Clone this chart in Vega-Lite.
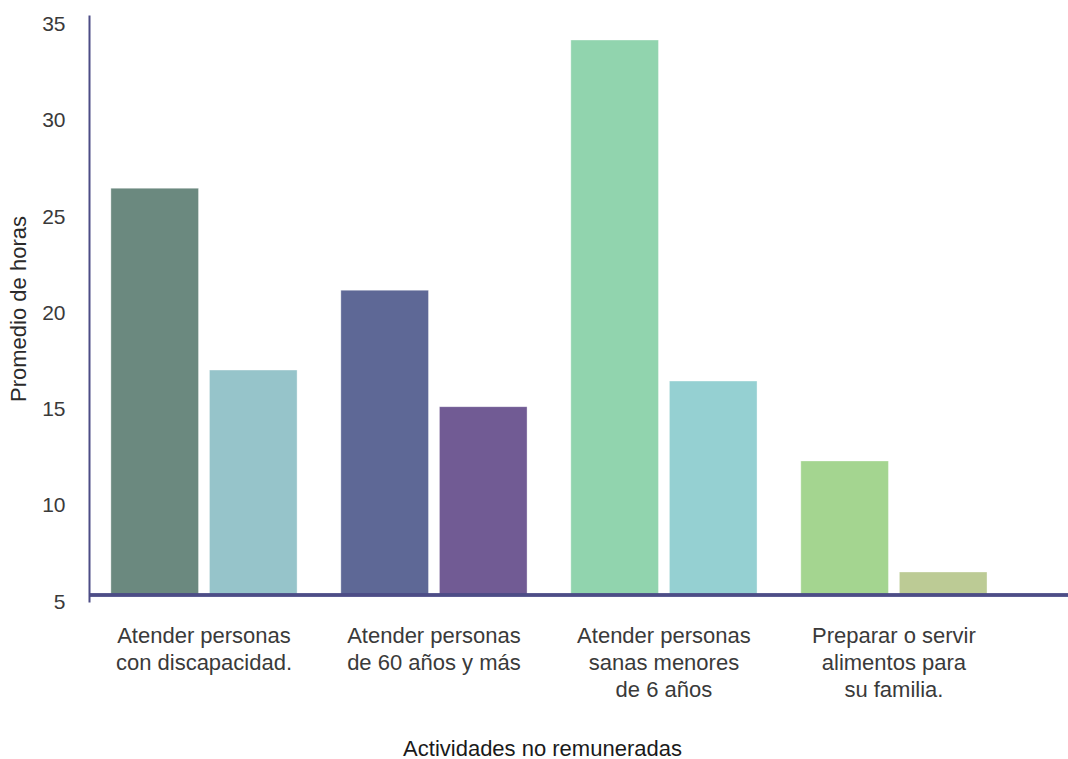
{
  "$schema": "https://vega.github.io/schema/vega-lite/v6.json",
  "autosize": "none",
  "width": 979,
  "height": 587,
  "padding": {"left": 89, "top": 15, "right": 0, "bottom": 157},
  "background": "white",
  "config": {
    "view": {"stroke": null},
    "font": "Liberation Sans"
  },
  "data": {
    "values": [
      {"actividad": "Atender personas|con discapacidad.", "serie": "A", "bar": "b1", "horas": 26.5},
      {"actividad": "Atender personas|con discapacidad.", "serie": "B", "bar": "b2", "horas": 17.05},
      {"actividad": "Atender personas|de 60 años y más", "serie": "A", "bar": "b3", "horas": 21.2},
      {"actividad": "Atender personas|de 60 años y más", "serie": "B", "bar": "b4", "horas": 15.15},
      {"actividad": "Atender personas|sanas menores|de 6 años", "serie": "A", "bar": "b5", "horas": 34.2},
      {"actividad": "Atender personas|sanas menores|de 6 años", "serie": "B", "bar": "b6", "horas": 16.48},
      {"actividad": "Preparar o servir|alimentos para|su familia.", "serie": "A", "bar": "b7", "horas": 12.33},
      {"actividad": "Preparar o servir|alimentos para|su familia.", "serie": "B", "bar": "b8", "horas": 6.56}
    ]
  },
  "layer": [
    {
      "mark": {"type": "bar", "stroke": "white", "strokeOpacity": 0.35, "strokeWidth": 1},
      "encoding": {
        "x": {
          "field": "actividad",
          "type": "nominal",
          "sort": null,
          "scale": {"paddingInner": 0, "paddingOuter": 0.1285, "align": 0},
          "axis": {
            "title": "Actividades no remuneradas",
            "labelExpr": "split(datum.label, '|')",
            "labelAngle": 0,
            "labelFont": "Liberation Sans",
            "labelFontSize": 22,
            "labelColor": "#3a3a3a",
            "labelLineHeight": 27,
            "labelBaseline": "top",
            "labelPadding": 23,
            "ticks": false,
            "domain": false,
            "titleFont": "Liberation Sans",
            "titleFontSize": 22,
            "titleFontWeight": "normal",
            "titleColor": "#1a1a1a",
            "titleAnchor": "start",
            "titleAlign": "center",
            "titleX": 453,
            "titlePadding": 38
          }
        },
        "xOffset": {
          "field": "serie",
          "type": "nominal",
          "scale": {"paddingInner": 0.111, "paddingOuter": 0.222}
        },
        "y": {
          "field": "horas",
          "type": "quantitative",
          "scale": {"domain": [5, 35.5], "nice": false, "zero": false},
          "axis": {
            "title": "Promedio de horas",
            "values": [5, 10, 15, 20, 25, 30, 35],
            "grid": false,
            "ticks": false,
            "labelFont": "Liberation Sans",
            "labelFontSize": 21,
            "labelColor": "#3a3a3a",
            "labelPadding": 24,
            "domain": true,
            "domainColor": "#4d4d86",
            "domainWidth": 2,
            "titleFont": "Liberation Sans",
            "titleFontSize": 22,
            "titleFontWeight": "normal",
            "titleColor": "#2a2a2a",
            "titlePadding": 11
          }
        },
        "y2": {"datum": 5.36},
        "color": {
          "field": "bar",
          "type": "nominal",
          "legend": null,
          "scale": {
            "domain": ["b1", "b2", "b3", "b4", "b5", "b6", "b7", "b8"],
            "range": ["#6b897f", "#96c4ca", "#5e6896", "#715b94", "#91d4ae", "#95d0d2", "#a4d590", "#bccb95"]
          }
        }
      }
    },
    {
      "mark": {"type": "rule", "color": "#4d4d86", "strokeWidth": 2.5},
      "encoding": {
        "y": {"datum": 5.36}
      }
    }
  ]
}
